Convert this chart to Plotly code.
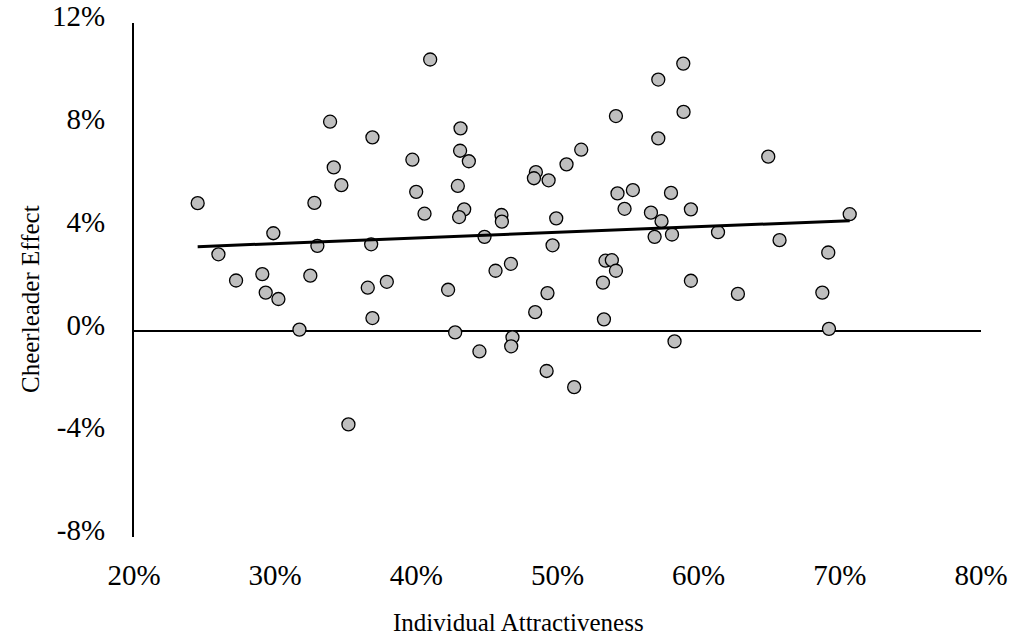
import numpy as np
import plotly.graph_objects as go

# Individual attractiveness (%) and cheerleader effect (%) per face
attractiveness = [
    40.98, 33.89, 36.89, 39.72, 34.15, 34.69, 39.99, 24.51, 32.78, 40.58,
    29.87, 32.99, 36.80, 25.98, 29.09, 27.23, 32.49, 37.91, 36.56, 29.33,
    30.23, 36.89, 31.72, 35.19, 58.91, 57.14, 54.14, 58.93, 57.14, 43.13,
    43.10, 43.72, 51.68, 50.64, 48.47, 48.33, 49.37, 42.94, 54.25, 55.34,
    58.04, 54.75, 56.62, 59.45, 43.39, 43.03, 46.03, 46.06, 49.91, 57.37,
    44.83, 49.65, 56.88, 58.11, 61.37, 46.70, 45.61, 53.40, 53.85, 54.14,
    53.22, 59.45, 42.25, 49.29, 48.42, 53.29, 42.75, 46.81, 46.72, 44.47,
    58.29, 49.23, 51.18, 70.70, 65.73, 69.18, 62.78, 68.76, 69.23, 64.93,
]
cheerleader_effect = [
    10.58, 8.16, 7.55, 6.68, 6.38, 5.69, 5.43, 4.99, 5.00, 4.58,
    3.82, 3.33, 3.39, 3.00, 2.23, 1.98, 2.17, 1.93, 1.70, 1.51,
    1.26, 0.52, 0.07, -3.62, 10.42, 9.80, 8.38, 8.54, 7.51, 7.90,
    7.03, 6.62, 7.07, 6.50, 6.20, 5.96, 5.88, 5.66, 5.37, 5.50,
    5.39, 4.77, 4.62, 4.75, 4.75, 4.45, 4.53, 4.27, 4.40, 4.29,
    3.68, 3.35, 3.68, 3.77, 3.86, 2.63, 2.36, 2.75, 2.77, 2.36,
    1.90, 1.97, 1.62, 1.49, 0.75, 0.47, -0.04, -0.23, -0.58, -0.78,
    -0.39, -1.54, -2.17, 4.56, 3.55, 3.07, 1.46, 1.51, 0.10, 6.80,
]

x_ticks = [20, 30, 40, 50, 60, 70, 80]
y_ticks = [-8, -4, 0, 4, 8, 12]
x_tick_labels = [f"{v}%" for v in x_ticks]
y_tick_labels = [f"{v}%" for v in y_ticks]

x = np.array(attractiveness) / 100
y = np.array(cheerleader_effect) / 100

# Linear trendline over the observed range
slope, intercept = np.polyfit(x, y, 1)
trend_x = np.array([x.min(), x.max()])
trend_y = slope * trend_x + intercept

FONT = "Liberation Serif"
TICK_FONT = dict(family=FONT, size=29, color="black")
TITLE_FONT = dict(family=FONT, size=25, color="black")

fig = go.Figure()
fig.add_trace(go.Scatter(
    x=x, y=y, mode="markers",
    marker=dict(size=13, color="#bfbfbf", line=dict(color="black", width=1.3)),
    showlegend=False, hoverinfo="skip",
))
fig.add_trace(go.Scatter(
    x=trend_x, y=trend_y, mode="lines",
    line=dict(color="black", width=3),
    showlegend=False, hoverinfo="skip",
))

fig.update_layout(
    width=1012, height=639,
    margin=dict(l=134, r=31, t=23, b=102),
    paper_bgcolor="white", plot_bgcolor="white",
    font=dict(family=FONT, size=24, color="black"),
    xaxis=dict(
        range=[0.2, 0.8], tickvals=[v / 100 for v in x_ticks], ticktext=x_tick_labels,
        showgrid=False, zeroline=False, showline=False, automargin=False,
        ticks="", ticklabelstandoff=18,
        tickfont=TICK_FONT,
    ),
    yaxis=dict(
        range=[-0.08, 0.12], tickvals=[v / 100 for v in y_ticks], ticktext=y_tick_labels,
        showgrid=False, zeroline=True, zerolinecolor="black", zerolinewidth=2,
        showline=True, linecolor="black", linewidth=2, automargin=False,
        ticks="", ticklabelstandoff=21, ticklabelshift=-7,
        tickfont=TICK_FONT,
    ),
    annotations=[
        dict(text="Individual Attractiveness", xref="paper", yref="paper",
             x=0.4535, y=-0.166, xanchor="center", yanchor="middle",
             showarrow=False, font=TITLE_FONT),
        dict(text="Cheerleader Effect", xref="paper", yref="paper",
             x=-0.1228, y=0.463, xanchor="center", yanchor="middle", textangle=-90,
             showarrow=False, font=TITLE_FONT),
    ],
)

fig.write_html("out.html")
